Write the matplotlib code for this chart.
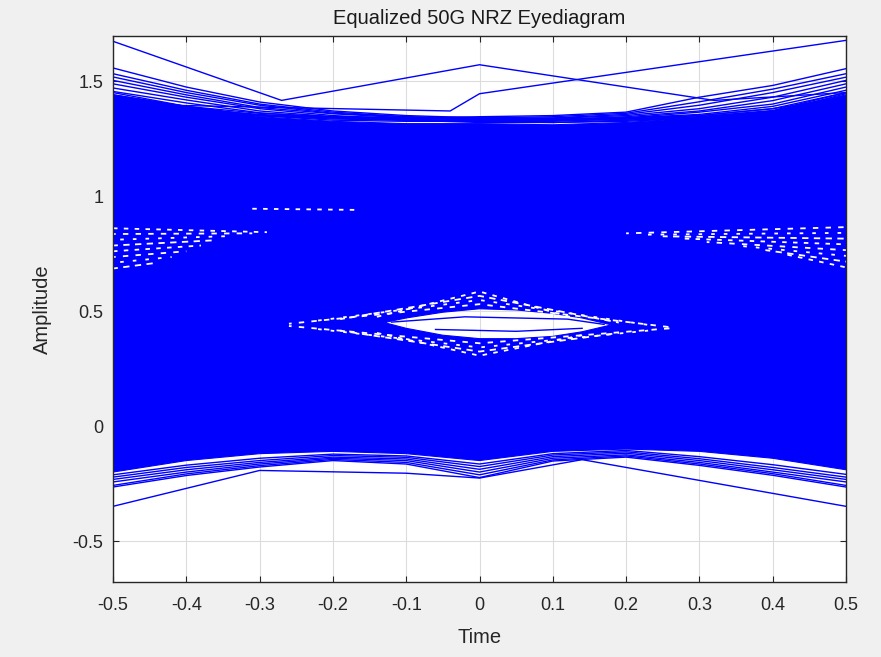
import numpy as np
import matplotlib
matplotlib.use("Agg")
import matplotlib.pyplot as plt
from matplotlib.path import Path
from matplotlib.patches import PathPatch

# ---------------- data ----------------
t_env = [-0.5, -0.4, -0.3, -0.2, -0.1, 0.0, 0.1, 0.2, 0.3, 0.4, 0.5]
# solid body of the eye (dense traces)
solid_top = [1.44, 1.39, 1.345, 1.325, 1.315, 1.315, 1.31, 1.32, 1.34, 1.37, 1.44]
solid_bot = [-0.20, -0.15, -0.12, -0.11, -0.12, -0.15, -0.11, -0.10, -0.11, -0.14, -0.19]

# inner eye opening
eye_t = [-0.13, -0.10, -0.05, 0.0, 0.05, 0.10, 0.14, 0.18]
eye_top = [0.45, 0.47, 0.495, 0.51, 0.505, 0.49, 0.47, 0.44]
eye_bot = [0.45, 0.425, 0.395, 0.38, 0.38, 0.39, 0.41, 0.44]

# individual visible traces near the upper rail
top_traces = [
    [1.557, 1.474, 1.409, 1.37, 1.35, 1.34, 1.335, 1.33, 1.34, 1.36, 1.40],
    [1.532, 1.46, 1.40, 1.365, 1.345, 1.335, 1.33, 1.335, 1.345, 1.37, 1.42],
    [1.518, 1.45, 1.395, 1.36, 1.345, 1.335, 1.335, 1.34, 1.35, 1.38, 1.45],
    [1.503, 1.44, 1.385, 1.358, 1.34, 1.33, 1.33, 1.34, 1.355, 1.39, 1.46],
    [1.488, 1.43, 1.38, 1.35, 1.335, 1.325, 1.325, 1.335, 1.35, 1.38, 1.43],
    [1.47, 1.418, 1.37, 1.345, 1.33, 1.325, 1.32, 1.33, 1.345, 1.372, 1.45],
    [1.455, 1.405, 1.362, 1.34, 1.33, 1.32, 1.32, 1.325, 1.34, 1.365, 1.445],
    [1.40, 1.37, 1.35, 1.345, 1.34, 1.345, 1.35, 1.365, 1.43, 1.481, 1.554],
    [1.42, 1.38, 1.355, 1.34, 1.338, 1.34, 1.345, 1.36, 1.41, 1.465, 1.532],
    [1.45, 1.39, 1.36, 1.345, 1.34, 1.338, 1.34, 1.355, 1.395, 1.45, 1.517],
    [1.44, 1.385, 1.35, 1.34, 1.335, 1.335, 1.338, 1.35, 1.38, 1.43, 1.503],
    [1.43, 1.38, 1.35, 1.335, 1.33, 1.33, 1.333, 1.345, 1.37, 1.415, 1.488],
    [1.44, 1.39, 1.35, 1.33, 1.325, 1.325, 1.33, 1.34, 1.365, 1.40, 1.474],
]
# individual visible traces near the lower rail
bot_traces = [
    [-0.265, -0.215, -0.178, -0.150, -0.165, -0.224, -0.152, -0.135, -0.171, -0.214, -0.265],
    [-0.258, -0.208, -0.172, -0.145, -0.158, -0.212, -0.147, -0.130, -0.165, -0.207, -0.258],
    [-0.243, -0.200, -0.165, -0.140, -0.150, -0.200, -0.140, -0.125, -0.158, -0.200, -0.243],
    [-0.232, -0.190, -0.158, -0.135, -0.143, -0.188, -0.133, -0.118, -0.150, -0.190, -0.232],
    [-0.222, -0.180, -0.150, -0.128, -0.136, -0.176, -0.126, -0.112, -0.142, -0.180, -0.222],
    [-0.212, -0.170, -0.140, -0.122, -0.130, -0.165, -0.120, -0.106, -0.133, -0.168, -0.210],
]

# outlier traces (time, amplitude)
out1_t = [-0.5, -0.27, 0.0, 0.32, 0.5]
out1_y = [1.673, 1.416, 1.571, 1.416, 1.45]
out2_t = [-0.5, -0.04, 0.0, 0.5]
out2_y = [1.40, 1.37, 1.445, 1.677]
out3_t = [-0.5, -0.3, -0.1, 0.0, 0.14, 0.5]
out3_y = [-0.349, -0.193, -0.205, -0.226, -0.146, -0.349]

# traces crossing the inner eye opening
inner_traces = [
    ([-0.12, -0.02, 0.12, 0.17], [0.452, 0.475, 0.465, 0.442]),
    ([-0.06, 0.05, 0.14], [0.42, 0.412, 0.425]),
]

# white gaps between traces (ghost eyes at the edges and the halo of the centre eye)
gaps = [
    ([-0.5, -0.29], [0.86, 0.843]),
    ([-0.5, -0.31], [0.835, 0.838]),
    ([-0.5, -0.34], [0.81, 0.826]),
    ([-0.5, -0.36], [0.785, 0.808]),
    ([-0.5, -0.38], [0.76, 0.785]),
    ([-0.5, -0.40], [0.735, 0.76]),
    ([-0.5, -0.42], [0.71, 0.735]),
    ([-0.5, -0.44], [0.685, 0.71]),
    ([-0.31, -0.17], [0.945, 0.94]),
    ([0.20, 0.5], [0.838, 0.865]),
    ([0.22, 0.5], [0.832, 0.84]),
    ([0.25, 0.5], [0.825, 0.815]),
    ([0.28, 0.5], [0.815, 0.79]),
    ([0.31, 0.5], [0.80, 0.765]),
    ([0.35, 0.5], [0.785, 0.74]),
    ([0.39, 0.5], [0.765, 0.715]),
    ([0.42, 0.5], [0.745, 0.69]),
    ([-0.26, 0.0, 0.26], [0.445, 0.53, 0.43]),
    ([-0.23, 0.0, 0.23], [0.455, 0.548, 0.44]),
    ([-0.19, 0.0, 0.19], [0.465, 0.566, 0.45]),
    ([-0.14, 0.0, 0.14], [0.475, 0.585, 0.46]),
    ([-0.26, 0.0, 0.26], [0.435, 0.36, 0.425]),
    ([-0.23, 0.0, 0.23], [0.425, 0.342, 0.415]),
    ([-0.19, 0.0, 0.19], [0.415, 0.324, 0.405]),
    ([-0.14, 0.0, 0.14], [0.405, 0.306, 0.395]),
]

title = "Equalized 50G NRZ Eyediagram"
xlabel = "Time"
ylabel = "Amplitude"
xticks = [-0.5, -0.4, -0.3, -0.2, -0.1, 0, 0.1, 0.2, 0.3, 0.4, 0.5]
xticklabels = ["-0.5", "-0.4", "-0.3", "-0.2", "-0.1", "0", "0.1", "0.2", "0.3", "0.4", "0.5"]
yticks = [-0.5, 0, 0.5, 1, 1.5]
yticklabels = ["-0.5", "0", "0.5", "1", "1.5"]

# ---------------- drawing ----------------
plt.rcParams['font.family'] = ['Liberation Sans', 'DejaVu Sans']
BLUE = (0, 0, 1)
fig = plt.figure(figsize=(8.81, 6.57), dpi=100, facecolor='#f0f0f0')
ax = fig.add_axes([113/881, 1-582/657, 733/881, 546/657])
ax.set_facecolor('white')
ax.set_xlim(-0.5, 0.5)
ax.set_ylim(-0.678, 1.696)

# solid body with the eye opening as a hole
outer = list(zip(t_env, solid_top)) + list(zip(t_env[::-1], solid_bot[::-1]))
hole = list(zip(eye_t, eye_top)) + list(zip(eye_t[::-1], eye_bot[::-1]))
hole = hole[::-1]
verts = outer + [outer[0]] + hole + [hole[0]]
codes = ([Path.MOVETO] + [Path.LINETO] * (len(outer) - 1) + [Path.CLOSEPOLY] +
         [Path.MOVETO] + [Path.LINETO] * (len(hole) - 1) + [Path.CLOSEPOLY])
ax.add_patch(PathPatch(Path(verts, codes), facecolor=BLUE, edgecolor=BLUE, lw=0.8, zorder=2))

for tr in top_traces:
    ax.plot(t_env, tr, color=BLUE, lw=1.0, zorder=3)
for tr in bot_traces:
    ax.plot(t_env, tr, color=BLUE, lw=1.0, zorder=3)
dash_patterns = [(0, (2.5, 3.5)), (1.5, (3.0, 4.0)), (3.0, (2.0, 5.0)), (0.8, (3.5, 3.0))]
for i, (tt, yy) in enumerate(gaps):
    ax.plot(tt, yy, color='white', lw=1.3, ls=dash_patterns[i % len(dash_patterns)], zorder=4)
for tt, yy in inner_traces:
    ax.plot(tt, yy, color=BLUE, lw=1.0, zorder=5)
ax.plot(out1_t, out1_y, color=BLUE, lw=1.0, zorder=5)
ax.plot(out2_t, out2_y, color=BLUE, lw=1.0, zorder=5)
ax.plot(out3_t, out3_y, color=BLUE, lw=1.0, zorder=5)

ax.set_xticks(xticks)
ax.set_xticklabels(xticklabels)
ax.set_yticks(yticks)
ax.set_yticklabels(yticklabels)
ax.grid(True, color='#dcdcdc', lw=0.8)
ax.set_axisbelow(True)
ax.tick_params(direction='in', length=4, width=0.8, top=True, right=True,
               labelsize=13, colors='#262626')
ax.tick_params(axis='x', pad=11)
ax.tick_params(axis='y', pad=7)
for s in ax.spines.values():
    s.set_color('#262626')
    s.set_linewidth(1.0)
    s.set_zorder(6)

ax.set_title(title, fontsize=14.5, color='#1a1a1a', pad=9)
ax.set_xlabel(xlabel, fontsize=14.5, color='#262626', labelpad=10)
ax.set_ylabel(ylabel, fontsize=14.5, color='#262626', labelpad=15)

fig.savefig('out.png', dpi=100, facecolor=fig.get_facecolor())
